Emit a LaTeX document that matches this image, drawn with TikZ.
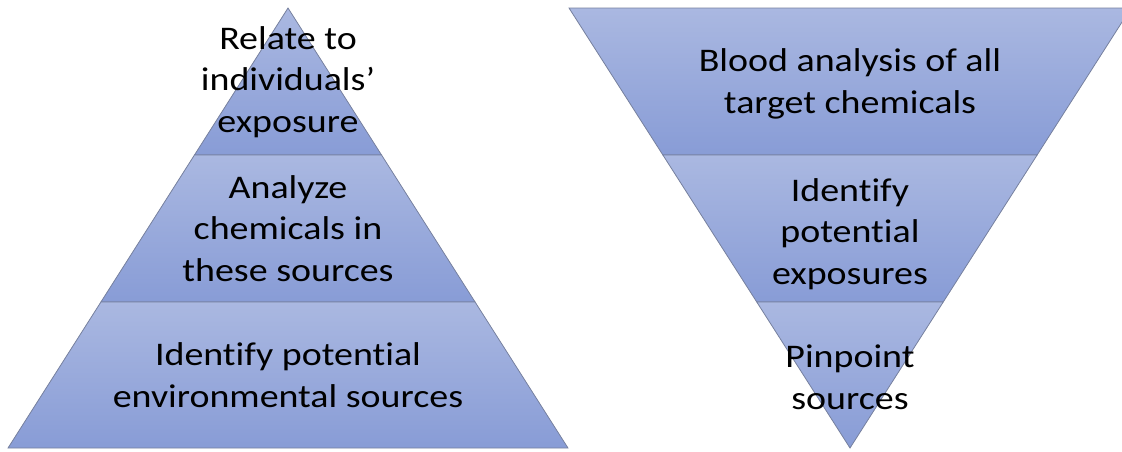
\documentclass[tikz,border=0pt]{standalone}
\usepackage{fontspec}
\setmainfont[FakeStretch=1.15,Ligatures=NoCommon]{Carlito}
\usetikzlibrary{calc}
\definecolor{bandtop}{RGB}{170,184,225}
\definecolor{bandbot}{RGB}{136,156,214}
\definecolor{edgecol}{RGB}{118,128,158}
\begin{document}
\begin{tikzpicture}[x=0.75pt,y=-0.75pt,
  band/.style={top color=bandtop,bottom color=bandbot,draw=edgecol,line width=0.6pt,line join=miter},
  lbl/.style={font=\fontsize{24.75}{31}\selectfont,align=center,inner sep=0pt,anchor=base,text=black}]
\useasboundingbox (0,0) rectangle (1122,451);
\clip (0,0) rectangle (1122,451);
% left pyramid
\coordinate (LA) at (288,8);
\coordinate (LBL) at (8,448);
\coordinate (LBR) at (568,448);
\coordinate (L1l) at ($(LA)!{147/440}!(LBL)$);
\coordinate (L1r) at ($(LA)!{147/440}!(LBR)$);
\coordinate (L2l) at ($(LA)!{294/440}!(LBL)$);
\coordinate (L2r) at ($(LA)!{294/440}!(LBR)$);
\path[band] (LA) -- (L1r) -- (L1l) -- cycle;
\path[band] (L1l) -- (L1r) -- (L2r) -- (L2l) -- cycle;
\path[band] (L2l) -- (L2r) -- (LBR) -- (LBL) -- cycle;
% right inverted pyramid
\coordinate (RTL) at (569,8);
\coordinate (RTR) at (1131,8);
\coordinate (RA) at (850,448);
\coordinate (R1l) at ($(RTL)!{147/440}!(RA)$);
\coordinate (R1r) at ($(RTR)!{147/440}!(RA)$);
\coordinate (R2l) at ($(RTL)!{294/440}!(RA)$);
\coordinate (R2r) at ($(RTR)!{294/440}!(RA)$);
\path[band] (RTL) -- (RTR) -- (R1r) -- (R1l) -- cycle;
\path[band] (R1l) -- (R1r) -- (R2r) -- (R2l) -- cycle;
\path[band] (R2l) -- (R2r) -- (RA) -- cycle;
% labels (anchor = baseline of last line)
\node[lbl] (t1) at (288,132) {Relate to\\individuals’\\exposure};
\node[lbl] (t2) at (288,281) {Analyze\\chemicals in\\these sources};
\node[lbl] (t3) at (288,407) {Identify potential\\environmental sources};
\node[lbl] (t4) at (850,113) {Blood analysis of all\\target chemicals};
\node[lbl] (t5) at (850,284) {Identify\\potential\\exposures};
\node[lbl] (t6) at (850,409) {Pinpoint\\sources};
\end{tikzpicture}
\end{document}
